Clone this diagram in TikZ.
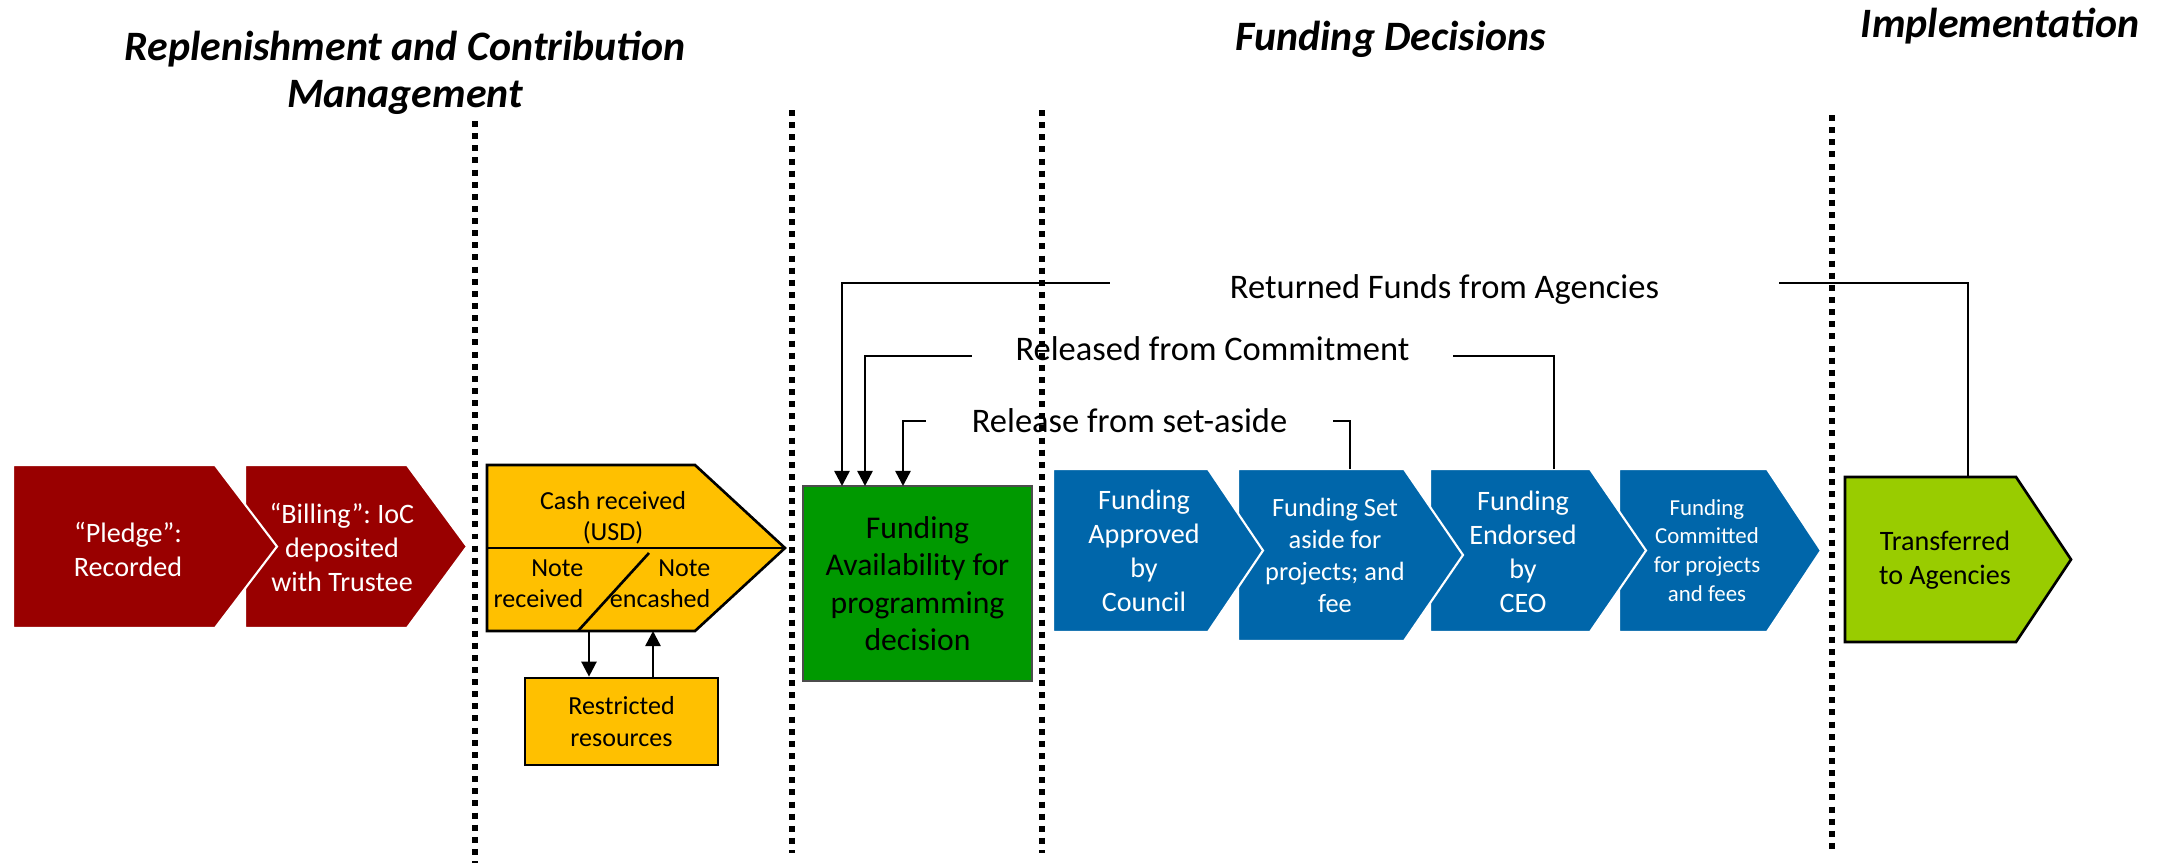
\documentclass[tikz,border=0pt]{standalone}
\usepackage{fontspec}
\setmainfont{Carlito}
\usetikzlibrary{arrows.meta}
\frenchspacing

\definecolor{pledgered}{HTML}{990000}
\definecolor{cashyellow}{HTML}{FFC000}
\definecolor{availgreen}{HTML}{009900}
\definecolor{decisionblue}{HTML}{0066AA}
\definecolor{transgreen}{HTML}{99CC00}

\tikzset{
  phase/.style={font=\bfseries\itshape\fontsize{11.9}{13.4}\selectfont, align=center, inner sep=0pt},
  redbox/.style={fill=pledgered, draw=white, line width=0.6pt},
  bluebox/.style={fill=decisionblue, draw=white, line width=0.6pt},
  cashbox/.style={fill=cashyellow, draw=black, line width=0.75pt},
  transbox/.style={fill=transgreen, draw=black, line width=0.75pt},
  availbox/.style={fill=availgreen, draw=black!70, line width=0.4pt},
  boxtext/.style={align=center, inner sep=0pt, font=\fontsize{8}{9.7}\selectfont},
  smalltext/.style={align=center, inner sep=0pt, font=\fontsize{7.4}{8.9}\selectfont},
  link/.style={line width=0.7pt},
  arr/.style={-{Triangle[width=4.3pt,length=4.3pt]}},
  flowlabel/.style={fill=white, inner xsep=0pt, font=\fontsize{9.8}{11.5}\selectfont},
  divider/.style={line width=1.7pt, dash pattern=on 1.7pt off 1.75pt},
}

\begin{document}
\begin{tikzpicture}[x=0.01cm, y=-0.01cm]
\useasboundingbox (0,0) rectangle (2165,863);

% phase headings
\node[phase] (replenish) at (405,73) {Replenishment and Contribution\\Management};
\node[phase, anchor=base] (decisions) at (1391,50) {Funding Decisions};
\node[phase, anchor=base] (implement) at (2000,37) {Implementation};

% pledge and billing
\filldraw[redbox] (245,465) -- (407,465) -- (467,546.5) -- (407,628) -- (245,628) -- cycle;
\filldraw[redbox] (13,465) -- (215,465) -- (277,546.5) -- (215,628) -- (13,628) -- cycle;
\node[boxtext, text=white] (pledge) at (128,549) {“Pledge”:\\Recorded};
\node[boxtext, text=white] (billing) at (342,547.5) {“Billing”: IoC\\deposited\\with Trustee};

% cash and notes
\filldraw[cashbox] (487,465) -- (695,465) -- (785,548) -- (695,631) -- (487,631) -- cycle;
\draw[line width=0.75pt] (487,548) -- (785,548);
\draw[line width=0.75pt] (578,631) -- (649,553);
\node[smalltext] (cash) at (613,518) {Cash received\\(USD)};
\node[smalltext, align=right, anchor=east] (note rec) at (584,583.5) {Note\\received};
\node[smalltext, align=right, anchor=east] (note enc) at (711,583.5) {Note\\encashed};
\node[cashbox, smalltext, minimum width=1.93cm, minimum height=0.87cm] (restr) at (621.5,721.5) {Restricted\\resources};

\coordinate (note in) at (589,631);
\coordinate (note out) at (653,631);
\draw[link, arr] (note in) -- (note in |- restr.north);
\draw[link, arr] (note out |- restr.north) -- (note out);

% availability
\node[availbox, minimum width=2.29cm, minimum height=1.95cm, align=center, inner sep=0pt,
  font=\fontsize{9}{10.6}\selectfont] (avail) at (917.5,583.5) {Funding\\Availability for\\programming\\decision};

% funding decisions
\filldraw[bluebox] (1619,469) -- (1767,469) -- (1821,550.5) -- (1767,632) -- (1619,632) -- cycle;
\filldraw[bluebox] (1430,469) -- (1590,469) -- (1646,550.5) -- (1590,632) -- (1430,632) -- cycle;
\filldraw[bluebox] (1238,469) -- (1404,469) -- (1463,555) -- (1404,641) -- (1238,641) -- cycle;
\filldraw[bluebox] (1053,469) -- (1208,469) -- (1263,550.5) -- (1208,632) -- (1053,632) -- cycle;
\node[boxtext, text=white] (approved) at (1144,551) {Funding\\Approved\\by\\Council};
\node[boxtext, text=white, font=\fontsize{7.5}{9.1}\selectfont] (setaside) at (1335,555.5) {Funding Set\\aside for\\projects; and\\fee};
\node[boxtext, text=white] (endorsed) at (1523,552) {Funding\\Endorsed\\by\\CEO};
\node[boxtext, text=white, font=\fontsize{6.5}{8.2}\selectfont] (committed) at (1707,550.5) {Funding\\Committed\\for projects\\and fees};

% implementation
\filldraw[transbox] (1845,477) -- (2016,477) -- (2071,559.5) -- (2016,642) -- (1845,642) -- cycle;
\node[boxtext] (transferred) at (1945,560) {Transferred\\to Agencies};

% returns to availability
\coordinate (trans top) at (1968,477);
\coordinate (endorse top) at (1554,469);
\coordinate (setaside top) at (1350,469);
\coordinate (ret in) at (842,486);
\coordinate (rel in) at (865,486);
\coordinate (rls in) at (903,486);

\draw[link, arr] (trans top) -- ++(0,-194) -| (ret in);
\draw[link, arr] (endorse top) -- ++(0,-113) -| (rel in);
\draw[link, arr] (setaside top) -- ++(0,-48) -| (rls in);

\node[flowlabel, anchor=base, minimum width=6.69cm] (returned) at (1444.5,298) {Returned Funds from Agencies};
\node[flowlabel, anchor=base, minimum width=4.81cm] (released) at (1212.5,360) {Released from Commitment};
\node[flowlabel, anchor=base, minimum width=4.07cm] (release) at (1129.5,432) {Release from set-aside};

% phase dividers
\draw[divider] (475,121) -- (475,863);
\draw[divider] (792,110) -- (792,853);
\draw[divider] (1042,110) -- (1042,853);
\draw[divider] (1832,115) -- (1832,849);

\end{tikzpicture}
\end{document}
